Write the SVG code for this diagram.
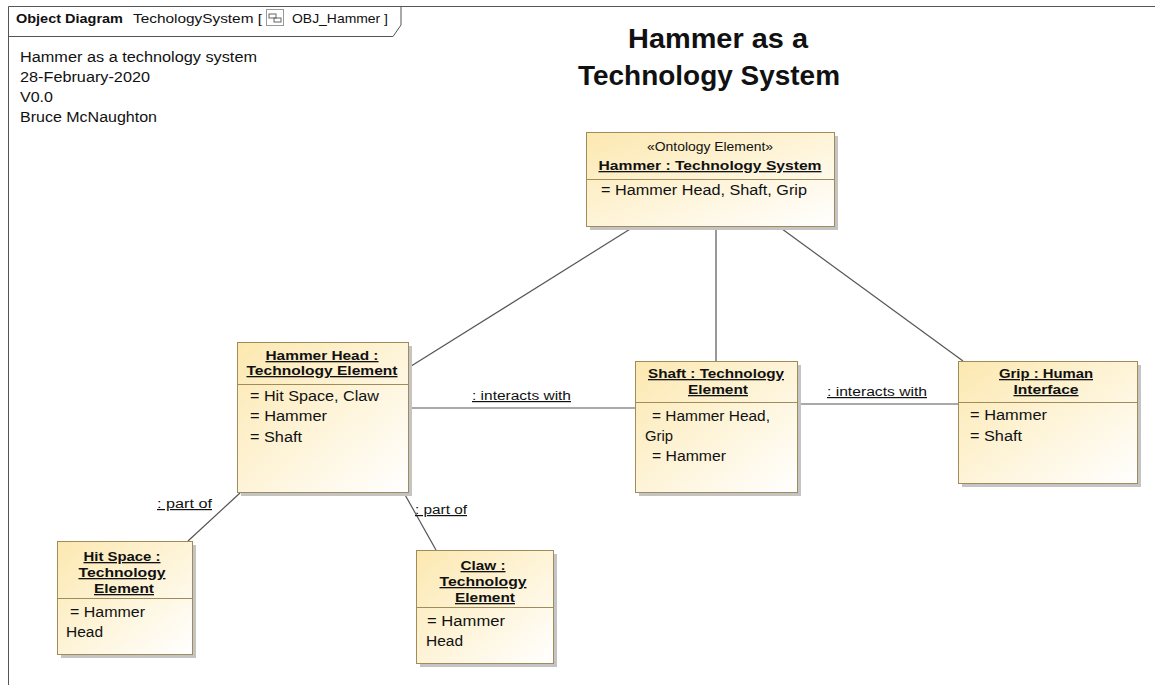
<svg xmlns="http://www.w3.org/2000/svg" width="1155" height="685" viewBox="0 0 1155 685">
<defs>
<linearGradient id="fill" x1="0" y1="0" x2="1" y2="1">
<stop offset="0" stop-color="#FCE8B0"/>
<stop offset="1" stop-color="#FFFFFF"/>
</linearGradient>
<style>
text{font-family:"Liberation Sans",Arial,sans-serif;fill:#111}
.box{fill:url(#fill);stroke:#A08C5A;stroke-width:1}
.shadow{fill:#C4C4C4}
.sep{stroke:#A08C5A;stroke-width:1}
.nm{font-size:13px;font-weight:bold;text-decoration:underline;text-anchor:middle}
.st{font-size:12px;text-anchor:middle}
.at{font-size:14px}
.conn line{stroke:#555;stroke-width:1.2}
.lbl{font-size:12px;text-decoration:underline}
</style>
</defs>
<rect width="1155" height="685" fill="#fff"/>
<g id="frame">
<path d="M8.5 690 V6.5 H1160" fill="none" stroke="#555"/>
<path d="M8.5 36.5 H393 L401 25 V6.5" fill="none" stroke="#555"/>
<text x="16" y="23" font-size="13" font-weight="bold" textLength="107" lengthAdjust="spacingAndGlyphs">Object Diagram</text>
<text x="133" y="23" font-size="13" textLength="129" lengthAdjust="spacingAndGlyphs">TechologySystem [</text>
<rect x="266.5" y="9.5" width="17" height="16" fill="#fff" stroke="#999"/>
<rect x="269" y="14" width="7" height="4" fill="none" stroke="#666"/>
<rect x="274" y="18" width="7" height="4" fill="none" stroke="#666"/>
<text x="292" y="23" font-size="13" textLength="96" lengthAdjust="spacingAndGlyphs">OBJ_Hammer ]</text>
</g>
<g id="notes">
<text x="20" y="62" font-size="14" textLength="237" lengthAdjust="spacingAndGlyphs">Hammer as a technology system</text>
<text x="20" y="82" font-size="14" textLength="130" lengthAdjust="spacingAndGlyphs">28-February-2020</text>
<text x="20" y="102" font-size="14" textLength="33" lengthAdjust="spacingAndGlyphs">V0.0</text>
<text x="20" y="122" font-size="14" textLength="137" lengthAdjust="spacingAndGlyphs">Bruce McNaughton</text>
<text x="718" y="48" font-size="28" font-weight="bold" text-anchor="middle" textLength="180" lengthAdjust="spacingAndGlyphs">Hammer as a</text>
<text x="709" y="85" font-size="28" font-weight="bold" text-anchor="middle" textLength="262" lengthAdjust="spacingAndGlyphs">Technology System</text>
</g>
<g class="conn" id="connectors">
<line x1="635" y1="226" x2="408" y2="368"/>
<line x1="716" y1="226" x2="716" y2="361"/>
<line x1="778" y1="226" x2="963" y2="361"/>
<line x1="408" y1="408" x2="635" y2="408"/>
<line x1="797" y1="404" x2="958" y2="404"/>
<line x1="240" y1="493" x2="188" y2="541"/>
<line x1="404" y1="493" x2="436" y2="550"/>
<text class="lbl" x="472" y="400" textLength="99" lengthAdjust="spacingAndGlyphs">: interacts with</text>
<text class="lbl" x="827" y="396" textLength="100" lengthAdjust="spacingAndGlyphs">: interacts with</text>
<text class="lbl" x="157" y="508" textLength="55" lengthAdjust="spacingAndGlyphs">: part of</text>
<text class="lbl" x="415" y="514" textLength="52" lengthAdjust="spacingAndGlyphs">: part of</text>
</g>
<g id="hammer">
<rect class="shadow" x="590" y="136" width="248" height="94"/>
<rect class="box" x="586.5" y="132.5" width="248" height="94"/>
<line class="sep" x1="586.5" y1="179.5" x2="834.5" y2="179.5"/>
<text class="st" x="710" y="151" textLength="126" lengthAdjust="spacingAndGlyphs">«Ontology Element»</text>
<text class="nm" x="710" y="170" textLength="223" lengthAdjust="spacingAndGlyphs">Hammer : Technology System</text>
<text class="at" x="601" y="195" textLength="206" lengthAdjust="spacingAndGlyphs">= Hammer Head, Shaft, Grip</text>
</g>
<g id="hammerhead">
<rect class="shadow" x="241" y="346" width="171" height="150"/>
<rect class="box" x="237.5" y="342.5" width="171" height="150"/>
<line class="sep" x1="237.5" y1="384.5" x2="408.5" y2="384.5"/>
<text class="nm" x="322" y="360" textLength="113" lengthAdjust="spacingAndGlyphs">Hammer Head :</text>
<text class="nm" x="322" y="375" textLength="151" lengthAdjust="spacingAndGlyphs">Technology Element</text>
<text class="at" x="250" y="401" textLength="129" lengthAdjust="spacingAndGlyphs">= Hit Space, Claw</text>
<text class="at" x="250" y="421" textLength="77" lengthAdjust="spacingAndGlyphs">= Hammer</text>
<text class="at" x="250" y="442" textLength="52" lengthAdjust="spacingAndGlyphs">= Shaft</text>
</g>
<g id="shaft">
<rect class="shadow" x="639" y="365" width="162" height="131"/>
<rect class="box" x="635.5" y="361.5" width="162" height="131"/>
<line class="sep" x1="635.5" y1="402.5" x2="797.5" y2="402.5"/>
<text class="nm" x="716" y="378" textLength="136" lengthAdjust="spacingAndGlyphs">Shaft : Technology</text>
<text class="nm" x="718" y="394" textLength="60" lengthAdjust="spacingAndGlyphs">Element</text>
<text class="at" x="652" y="421" textLength="118" lengthAdjust="spacingAndGlyphs">= Hammer Head,</text>
<text class="at" x="645" y="441" textLength="28" lengthAdjust="spacingAndGlyphs">Grip</text>
<text class="at" x="652" y="461" textLength="74" lengthAdjust="spacingAndGlyphs">= Hammer</text>
</g>
<g id="grip">
<rect class="shadow" x="962" y="365" width="179" height="122"/>
<rect class="box" x="958.5" y="361.5" width="179" height="122"/>
<line class="sep" x1="958.5" y1="402.5" x2="1137.5" y2="402.5"/>
<text class="nm" x="1046" y="378" textLength="94" lengthAdjust="spacingAndGlyphs">Grip : Human</text>
<text class="nm" x="1046" y="394" textLength="65" lengthAdjust="spacingAndGlyphs">Interface</text>
<text class="at" x="970" y="420" textLength="77" lengthAdjust="spacingAndGlyphs">= Hammer</text>
<text class="at" x="970" y="441" textLength="52" lengthAdjust="spacingAndGlyphs">= Shaft</text>
</g>
<g id="hitspace">
<rect class="shadow" x="61" y="545" width="135" height="113"/>
<rect class="box" x="57.5" y="541.5" width="135" height="113"/>
<line class="sep" x1="57.5" y1="598.5" x2="192.5" y2="598.5"/>
<text class="nm" x="122" y="561" textLength="77" lengthAdjust="spacingAndGlyphs">Hit Space :</text>
<text class="nm" x="122" y="577" textLength="87" lengthAdjust="spacingAndGlyphs">Technology</text>
<text class="nm" x="124" y="593" textLength="60" lengthAdjust="spacingAndGlyphs">Element</text>
<text class="at" x="70" y="617" textLength="75" lengthAdjust="spacingAndGlyphs">= Hammer</text>
<text class="at" x="66" y="637" textLength="37" lengthAdjust="spacingAndGlyphs">Head</text>
</g>
<g id="claw">
<rect class="shadow" x="420" y="554" width="137" height="113"/>
<rect class="box" x="416.5" y="550.5" width="137" height="113"/>
<line class="sep" x1="416.5" y1="607.5" x2="553.5" y2="607.5"/>
<text class="nm" x="483" y="570" textLength="45" lengthAdjust="spacingAndGlyphs">Claw :</text>
<text class="nm" x="483" y="586" textLength="87" lengthAdjust="spacingAndGlyphs">Technology</text>
<text class="nm" x="485" y="602" textLength="60" lengthAdjust="spacingAndGlyphs">Element</text>
<text class="at" x="427" y="626" textLength="78" lengthAdjust="spacingAndGlyphs">= Hammer</text>
<text class="at" x="426" y="646" textLength="37" lengthAdjust="spacingAndGlyphs">Head</text>
</g>
</svg>
